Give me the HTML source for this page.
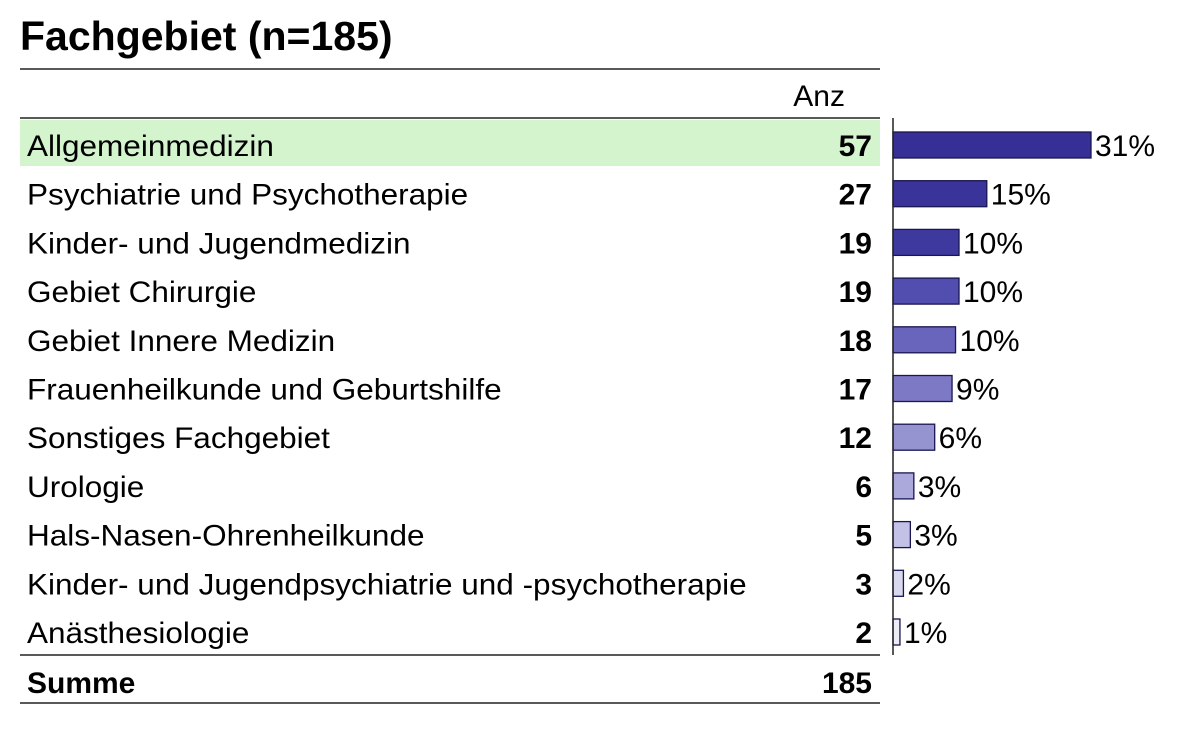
<!DOCTYPE html>
<html><head><meta charset="utf-8"><style>
html,body{margin:0;padding:0;background:#fff;width:1200px;height:734px;overflow:hidden}
svg{display:block;font-family:"Liberation Sans",Arial,sans-serif}
</style></head><body>
<svg id="chart" width="1200" height="734" viewBox="0 0 1200 734">
<text x="20" y="50" font-size="41" font-weight="bold" fill="#000">Fachgebiet (n=185)</text>
<line x1="20" y1="69" x2="880" y2="69" stroke="#222" stroke-width="1.5"/>
<text x="845" y="106" font-size="30" text-anchor="end" fill="#000">Anz</text>
<line x1="20" y1="118" x2="880" y2="118" stroke="#222" stroke-width="1.5"/>
<rect x="20" y="120" width="860" height="46" fill="#d3f4cd"/>
<g id="rows"></g>
<line x1="893" y1="118" x2="893" y2="655" stroke="#222" stroke-width="1.5"/>
<line x1="20" y1="655" x2="880" y2="655" stroke="#222" stroke-width="1.5"/>
<text x="27" y="693" font-size="30" font-weight="bold" fill="#000">Summe</text>
<text x="872" y="693" font-size="30" font-weight="bold" text-anchor="end" fill="#000">185</text>
<line x1="20" y1="703" x2="880" y2="703" stroke="#222" stroke-width="1.5"/>
</svg>
<script>
const categories = ["Allgemeinmedizin","Psychiatrie und Psychotherapie","Kinder- und Jugendmedizin","Gebiet Chirurgie","Gebiet Innere Medizin","Frauenheilkunde und Geburtshilfe","Sonstiges Fachgebiet","Urologie","Hals-Nasen-Ohrenheilkunde","Kinder- und Jugendpsychiatrie und -psychotherapie","Anästhesiologie"];
const counts = [57,27,19,19,18,17,12,6,5,3,2];
const total = 185;
const colors = ["#363096","#39339a","#3e399f","#524eaf","#6965bc","#7d79c5","#9693d1","#aba9db","#c3c2e6","#d8d8ee","#ececf6"];
const NS = "http://www.w3.org/2000/svg";
const g = document.getElementById("rows");
const x0 = 893, pxPerCount = 198/57;
const xScale = v => x0 + v * pxPerCount;
const yRow = i => 145 + i * 48.7;
function mk(tag, attrs){const e=document.createElementNS(NS,tag);for(const k in attrs)e.setAttribute(k,attrs[k]);return e;}
categories.forEach((c,i)=>{
  const y = yRow(i);
  const t = mk("text",{x:27,y:y+11,"font-size":30,fill:"#000"});
  t.textContent = c;
  
  
  g.appendChild(t);
  const L = t.getComputedTextLength();
  if (L > 0) { t.setAttribute('textLength', (L*1.05).toFixed(1)); t.setAttribute('lengthAdjust','spacingAndGlyphs'); }
  const n = mk("text",{x:872,y:y+11,"font-size":30,"font-weight":"bold","text-anchor":"end",fill:"#000"});
  n.textContent = counts[i];
  
  
  g.appendChild(n);
  const w = xScale(counts[i]) - x0;
  const r = mk("rect",{x:x0,y:y-13,width:w,height:26,fill:colors[i],stroke:"#1a1650","stroke-width":1.3});
  
  
  g.appendChild(r);
  const p = mk("text",{x:x0+w+4,y:y+11,"font-size":30,fill:"#000"});
  p.textContent = Math.round(counts[i]/total*100) + "%";
  
  
  g.appendChild(p);
});
</script>
</body></html>
